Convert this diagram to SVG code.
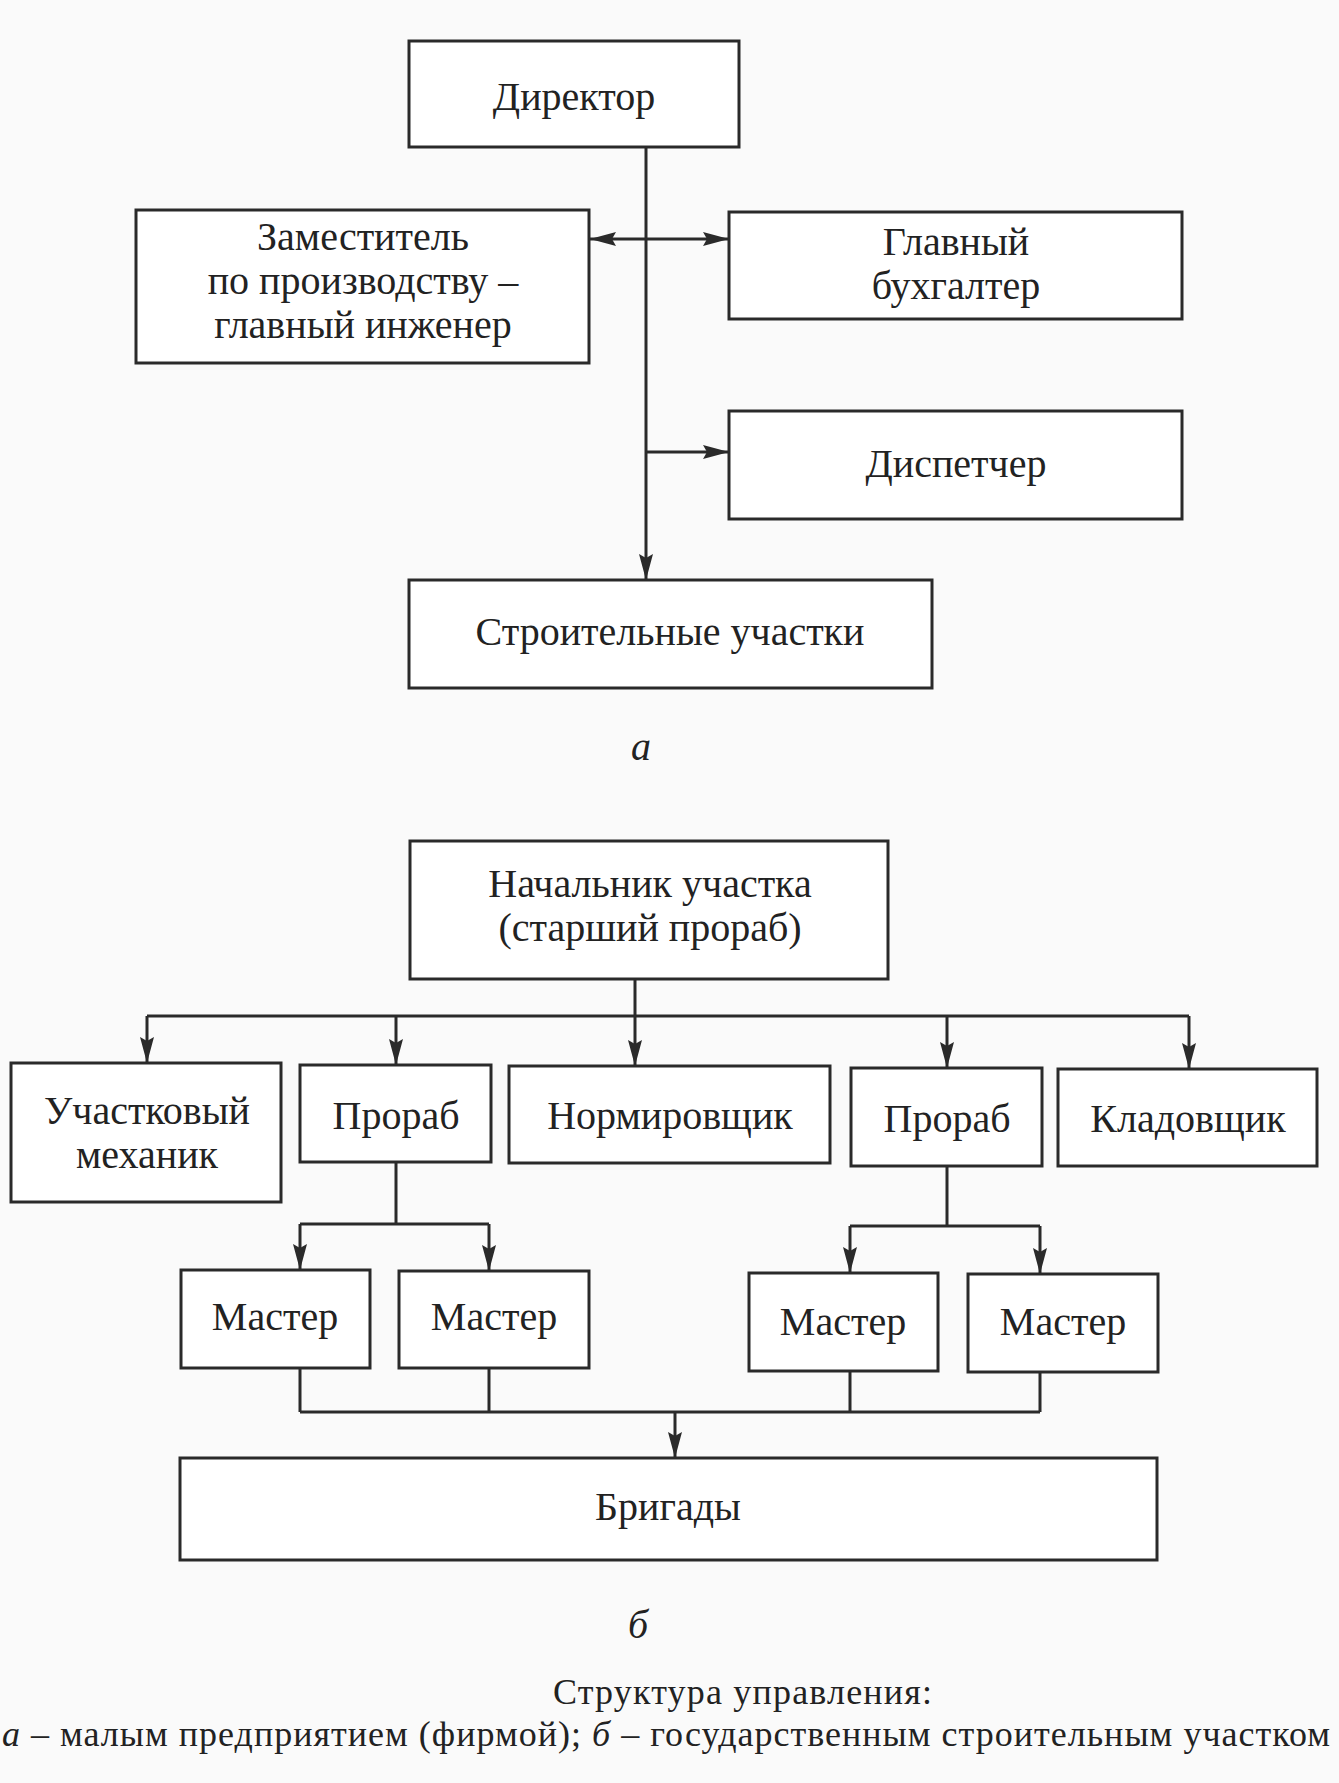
<svg xmlns="http://www.w3.org/2000/svg" width="1339" height="1783" viewBox="0 0 1339 1783">
<style>
.box{fill:#ffffff;stroke:#2a2a2a;stroke-width:3}
.lbl{font-family:"Liberation Serif","Times New Roman",serif;font-size:40px;fill:#222;text-anchor:middle}
.it{font-family:"Liberation Serif","Times New Roman",serif;font-style:italic;fill:#222;text-anchor:middle;font-size:40px}
.cap{font-family:"Liberation Serif","Times New Roman",serif;fill:#222;font-size:36px}
.conn{stroke:#2a2a2a;stroke-width:3;fill:none}
.arr{marker-end:url(#ah)}
</style>
<defs>
<marker id="ah" viewBox="0 0 26 14" markerWidth="26" markerHeight="14" refX="26" refY="7" orient="auto-start-reverse" markerUnits="userSpaceOnUse">
<path d="M0,0 L26,7 L0,14 L4,7 z" fill="#2a2a2a"/>
</marker>
</defs>
<rect x="0" y="0" width="1339" height="1783" fill="#fafafa"/>

<g id="connectors">
<!-- part a -->
<line class="conn arr" x1="646" y1="147" x2="646" y2="580"/>
<line class="conn" x1="590" y1="239" x2="729" y2="239" marker-start="url(#ah)" marker-end="url(#ah)"/>
<line class="conn arr" x1="646" y1="452" x2="729" y2="452"/>
<!-- part b -->
<line class="conn" x1="635" y1="979" x2="635" y2="1016"/>
<line class="conn" x1="147" y1="1016" x2="1189" y2="1016"/>
<line class="conn arr" x1="147" y1="1016" x2="147" y2="1063"/>
<line class="conn arr" x1="396" y1="1016" x2="396" y2="1065"/>
<line class="conn arr" x1="635" y1="1016" x2="635" y2="1066"/>
<line class="conn arr" x1="947" y1="1016" x2="947" y2="1068"/>
<line class="conn arr" x1="1189" y1="1016" x2="1189" y2="1069"/>
<line class="conn" x1="396" y1="1162" x2="396" y2="1224"/>
<line class="conn" x1="300" y1="1224" x2="489" y2="1224"/>
<line class="conn arr" x1="300" y1="1224" x2="300" y2="1270"/>
<line class="conn arr" x1="489" y1="1224" x2="489" y2="1271"/>
<line class="conn" x1="947" y1="1166" x2="947" y2="1226"/>
<line class="conn" x1="850" y1="1226" x2="1040" y2="1226"/>
<line class="conn arr" x1="850" y1="1226" x2="850" y2="1273"/>
<line class="conn arr" x1="1040" y1="1226" x2="1040" y2="1274"/>
<line class="conn" x1="300" y1="1368" x2="300" y2="1412"/>
<line class="conn" x1="489" y1="1368" x2="489" y2="1412"/>
<line class="conn" x1="850" y1="1371" x2="850" y2="1412"/>
<line class="conn" x1="1040" y1="1372" x2="1040" y2="1412"/>
<line class="conn" x1="300" y1="1412" x2="1040" y2="1412"/>
<line class="conn arr" x1="675" y1="1412" x2="675" y2="1458"/>
</g>

<!-- part a nodes -->
<g id="director">
<rect class="box" x="409" y="41" width="330" height="106"/>
<text class="lbl" x="574" y="110">Директор</text>
</g>
<g id="deputy">
<rect class="box" x="136" y="210" width="453" height="153"/>
<text class="lbl" x="363" y="250">Заместитель</text>
<text class="lbl" x="363" y="294">по производству –</text>
<text class="lbl" x="363" y="338">главный инженер</text>
</g>
<g id="accountant">
<rect class="box" x="729" y="212" width="453" height="107"/>
<text class="lbl" x="956" y="255">Главный</text>
<text class="lbl" x="956" y="299">бухгалтер</text>
</g>
<g id="dispatcher">
<rect class="box" x="729" y="411" width="453" height="108"/>
<text class="lbl" x="956" y="477">Диспетчер</text>
</g>
<g id="sites">
<rect class="box" x="409" y="580" width="523" height="108"/>
<text class="lbl" x="670" y="645">Строительные участки</text>
</g>
<text class="it" x="641" y="760">а</text>

<!-- part b nodes -->
<g id="head">
<rect class="box" x="410" y="841" width="478" height="138"/>
<text class="lbl" x="650" y="897">Начальник участка</text>
<text class="lbl" x="650" y="941">(старший прораб)</text>
</g>
<g id="mechanic">
<rect class="box" x="11" y="1063" width="270" height="139"/>
<text class="lbl" x="147" y="1124">Участковый</text>
<text class="lbl" x="147" y="1168">механик</text>
</g>
<g id="foreman1">
<rect class="box" x="300" y="1065" width="191" height="97"/>
<text class="lbl" x="396" y="1129">Прораб</text>
</g>
<g id="rate-setter">
<rect class="box" x="509" y="1066" width="321" height="97"/>
<text class="lbl" x="670" y="1129">Нормировщик</text>
</g>
<g id="foreman2">
<rect class="box" x="851" y="1068" width="191" height="98"/>
<text class="lbl" x="947" y="1132">Прораб</text>
</g>
<g id="storekeeper">
<rect class="box" x="1058" y="1069" width="259" height="97"/>
<text class="lbl" x="1188" y="1132">Кладовщик</text>
</g>
<g id="master1">
<rect class="box" x="181" y="1270" width="189" height="98"/>
<text class="lbl" x="275" y="1330">Мастер</text>
</g>
<g id="master2">
<rect class="box" x="399" y="1271" width="190" height="97"/>
<text class="lbl" x="494" y="1330">Мастер</text>
</g>
<g id="master3">
<rect class="box" x="749" y="1273" width="189" height="98"/>
<text class="lbl" x="843" y="1335">Мастер</text>
</g>
<g id="master4">
<rect class="box" x="968" y="1274" width="190" height="98"/>
<text class="lbl" x="1063" y="1335">Мастер</text>
</g>
<g id="brigades">
<rect class="box" x="180" y="1458" width="977" height="102"/>
<text class="lbl" x="668" y="1520">Бригады</text>
</g>
<text class="it" x="638" y="1638">б</text>

<g id="caption">
<text class="cap" x="553" y="1704" textLength="379" lengthAdjust="spacing">Структура управления:</text>
<text class="cap" x="2" y="1746" textLength="1328" lengthAdjust="spacing"><tspan font-style="italic">а</tspan> – малым предприятием (фирмой); <tspan font-style="italic">б</tspan> – государственным строительным участком</text>
</g>
</svg>
